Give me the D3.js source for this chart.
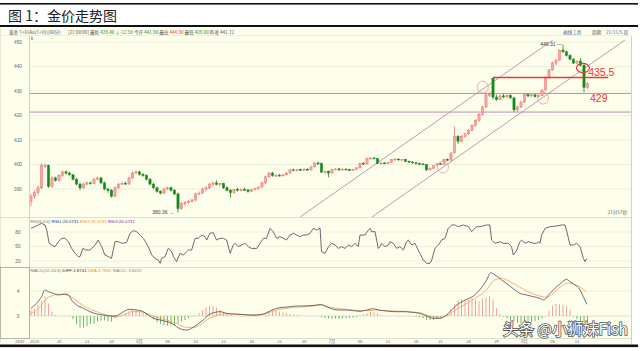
<!DOCTYPE html>
<html>
<head>
<meta charset="utf-8">
<script src="https://cdn.jsdelivr.net/npm/d3@7"></script>
<style>
  body { margin: 0; background: #fff; }
  svg { display: block; }
</style>
</head>
<body>
<svg id="chart" width="640" height="351"></svg>
<script>
// ── Data ────────────────────────────────────────────────────────────────────
const candleOpen = [385,387,388.5,390.5,399.5,399.6,391,394.5,393.5,395.5,397,396.5,395.8,394,392,390.5,392,392.5,392.2,394,
  394.5,392.5,390,389.5,387,390.5,392,392.3,392,394.5,396.5,397,396,395.5,394,392,390.5,389,388.3,390,
  390.5,389.5,388,382,384,384.5,385,385.5,388,388.3,390,390.5,392,392.5,391.8,392.3,390.5,389.5,388.5,389.8,
  389.5,389.8,389.6,389,389.8,390.2,390.8,392.5,395,396.5,395.5,395.6,395.4,395.8,396.5,397.8,397.6,397.9,397.7,398,
  397.8,399,400.6,400.4,396.9,397.2,396.5,398,398.2,397.8,398.1,397.9,397.6,398,398.6,400.5,400.3,402.5,402.6,402.4,
  400.5,400.6,400.4,400.8,402,402.2,401.9,402.1,401.3,401,400.7,400.4,400.2,400,397.8,398.5,399.6,400.3,400.1,402,
  401.8,404.7,411.5,409.5,411.5,412.5,414,416,418,420.5,423.5,428.4,435.2,427.5,426.5,428,427.6,428.2,427.2,422.3,
  423.5,425.5,428.5,428,428.4,427.7,428.1,430.4,435.5,438.6,441.4,442.6,446.7,446,444.5,443,441.4,442.2,440.5,431.5];
const candleHigh = [388,389.5,391.5,400.5,400.5,400,395,395,396,397.5,397.5,397,396,394.5,392.5,392.5,393,393,394.5,395,
  395,393,390.5,390,391,392.5,393,393,395,397,397.5,397.5,396.5,396,394.5,392.5,391,389.5,390.5,391,
  391,390,388.5,384.5,385,385.5,386,388.5,389,390.5,391,392.5,393,393.5,392.5,392.5,391,390,390,390.5,
  390.2,390.5,390,390,390.5,391,393,395.5,397,397,396,396.2,396,397,398.2,398.3,398.2,398.3,398.5,398.5,
  399.5,401,401.2,400.8,397.5,397.6,398.3,398.5,398.6,398.5,398.4,398.3,398.2,399,400.8,401,402.8,403,403,402.6,
  401,401,401,402.3,402.5,402.5,402.3,402.3,401.6,401.4,401,400.8,400.6,400.2,398.8,399.8,400.5,400.8,402.3,402.5,
  405,415.5,412,412,413,414.5,416.5,418.5,421,424,428.8,429.5,435.5,428.5,428.5,428.8,428.5,428.6,427.5,424,
  426,428.8,429,428.8,428.8,428.5,430.8,436,439,442,443,447,448.9,446.5,445,443.3,442.5,443.5,441,433.5];
const candleLow = [383,386,387.5,390,398.5,390.5,390.5,393,393,395,396,395.5,393.5,391.5,389.5,390,391.5,391.8,392,393.5,
  392,389.5,388.5,386.5,386.8,390,391.5,391.8,391.8,394,396,395.5,395,393.5,391.5,390,388.5,387.8,388,389.5,
  389,387.5,380.4,381.5,383,384,384.5,385,387.5,388,389,390,391,391.5,391,390,389,386.5,388,389,
  389,389.2,388.5,388.7,389.5,389.8,390.5,392,394.5,395,395,395.2,395,395.5,396.3,397.3,397.2,397.5,397.4,397.6,
  397.5,398.8,399.8,396.5,396.3,394.8,396.3,397.6,397.5,397.5,397.6,397.3,397.4,397.8,398.4,399.8,400,402,402.2,400.2,
  400,400.2,400,400.6,401.5,401.6,401.5,401,400.6,400.3,400,399.8,399.8,397.4,397.5,398.2,399.3,399.8,399.9,401.5,
  401.6,404.5,408.5,409,411,412,413.5,415.5,417.5,420,423,427.5,426.5,426,426.3,427.2,427,426.8,421.5,421.6,
  423,425.2,427.5,427.6,427.3,427.4,428,430.2,435,438.3,440.5,442.3,445.5,444,442.5,441,441,440,429.5,430.8];
const candleClose = [387,388.5,390.5,399.5,399.6,391,394.5,393.5,395.5,397,396.5,395.8,394,392,390.5,392,392.5,392.2,394,394.5,
  392.5,390,389.5,387,390.5,392,392.3,392,394.5,396.5,397,396,395.5,394,392,390.5,389,388.3,390,390.5,
  389.5,388,382,384,384.5,385,385.5,388,388.3,390,390.5,392,392.5,391.8,392.3,390.5,389.5,388.5,389.8,389.5,
  389.8,389.6,389,389.8,390.2,390.8,392.5,395,396.5,395.5,395.6,395.4,395.8,396.5,397.8,397.6,397.9,397.7,398,397.8,
  399,400.6,400.4,396.9,397.2,396.5,398,398.2,397.8,398.1,397.9,397.6,398,398.6,400.5,400.3,402.5,402.6,402.4,400.5,
  400.6,400.4,400.8,402,402.2,401.9,402.1,401.3,401,400.7,400.4,400.2,400,397.8,398.5,399.6,400.3,400.1,402,401.8,
  404.7,411.5,409.5,411.5,412.5,414,416,418,420.5,423.5,428.4,428.5,427.5,426.5,428,427.6,428.2,427.2,422.3,423.5,
  425.5,428.5,428,428.4,427.7,428.1,430.4,435.5,438.6,441.4,442.6,446.7,446,444.5,443,441.4,442.2,440.5,431.5,433];

const priceTicks = [390, 400, 410, 420, 430, 440, 450];
const supportLevels = [429, 421.4];
const resistance = { level: 435.5, from: 132, to: 164.9 };
const channelUpper = [[76.9, 378.6], [149.1, 450.8]];
const channelLower = [[97.4, 378.6], [169.7, 450.8]];
const ringMarks = [[117.7, 399], [129.1, 431.6], [146.3, 427.1]];
const breakMark = [157.7, 439.4];
const lowMark = { idx: 42, price: 380.4, text: '380.36' };
const highMark = { idx: 152, price: 448.9, text: '449.31' };

const rsiPos = [0,1.1,2.1,3,4,4.5,5.2,5.9,6.9,7.8,8.8,9.7,10.7,11.6,12.6,13.5,14,14.8,15.7,16.9,18.3,19.2,20.2,21.1,22.1,23,23.5,24,25,25.9,
  27.3,28.3,29.2,30.2,31.1,32.1,33,33.5,34.5,35.4,36.4,36.9,37.3,38.3,39.2,40.2,40.7,41.6,42.6,43.5,44.5,45,45.9,46.9,47.8,48.8,49.7,50.2,51.1,52.1,
  53,54,55,55.9,56.9,57.8,58.3,59.2,60.2,61.1,62.1,63,64.5,66.4,67.3,68.3,69.2,70.2,71.1,72.1,73,74,75,75.9,76.9,77.8,78.8,79.7,80.7,81.6,
  82.6,83,84,85,85.9,86.9,87.8,88.8,89.7,90.7,91.6,92.6,93.5,94,95.4,96.4,96.9,97.3,98.3,99.2,99.7,100.2,101.1,102.1,102.6,103.5,104.5,105.4,106.4,107.3,
  107.8,108.8,109.7,111.1,112.1,113,114,114.5,115.4,116.4,117.3,118.3,119.2,120.2,121.1,122.1,123.5,125,125.9,127.3,128.3,130.2,131.1,131.6,132.6,134,134.9,136.4,137.3,137.8,
  138.8,139.7,140.2,141.1,142.1,143.5,144.5,145,145.4,145.9,146.9,148.3,150.2,151.6,152.6,153.1,154,155,155.9,156.9,157.8,158.3,158.8];
const rsiVal = [87.6,91,94.5,98,94.5,84,56.6,53,49.7,60,67,67,60,46,35.9,29,29,46,42.8,42.8,53,63.4,49.7,32.4,29,25.5,42.8,60,60,56.6,
  58,77.2,82.8,80.7,73.8,66.9,56.6,49.7,32.4,25.5,22,15.2,25.5,29,46,39.3,29,18.6,35.9,32.4,39.3,42.8,42.8,66.9,66.9,73.8,70.3,63.4,77.2,78.6,
  63.4,66.9,66.9,63.4,35.9,53,56.6,49.7,53,56.6,49.7,46,46,66.9,66.9,87.6,80.7,66.9,70.3,66.9,63.4,73.8,77.2,73.8,70.3,73.8,73.8,77.2,87.6,84.1,
  87.6,39.3,35.9,49.7,56.6,53,46,49.7,46,53,49.7,56.6,49.7,73.8,73.8,84.1,87.6,80.7,80.7,46,49.7,56.6,49.7,53,60,56.6,46,49.7,42.8,60,
  63.4,53,56.6,35.9,22,15.2,15.2,22,46,53,63.4,66.9,87.6,94.5,94.5,91,94.5,91,80.7,91,91,94.5,94.5,63.4,56.6,60,56.6,56.6,49.7,32.4,
  42.8,60,63.4,56.6,60,56.6,56.6,60,56.6,73.8,87.6,91,92.4,94.5,94.5,80.7,53,53,56.6,49.7,25.5,18.6,25.5];
const rsiTicks = [80, 50, 20];

const difPos = [0,1.6,3,4,5,6.4,7.8,9.7,10.7,11.6,13,15,16.9,18.8,20.7,22.6,24,25.4,26.9,28.3,30.2,32.1,33.5,35,36.9,38.8,40.2,41.6,43,44.5,
  45.9,47.3,49.2,50.7,52.1,54,55.9,57.8,59.7,63.5,66.4,68.3,70.2,72.1,74,75.9,77.8,79.7,81.6,82.6,84.5,86.4,88.3,90.2,92.1,94,95.9,97.8,99.2,101.6,
  104,106.4,108.8,111.1,113,115,116.9,118.3,119.7,121.1,122.6,124.5,126.4,128.3,130.2,131.3,132.6,134.5,136.4,138.3,139.7,141.6,143.5,145.4,146.4,148.3,150.2,151.6,153,154,
  155.4,156.9,157.8,158.8];
const difVal = [1.23,2.03,3.09,4.16,3.89,3.63,3.36,3.52,3.36,2.56,1.76,1.23,0.69,0.32,0.16,0,0,0.32,0.85,1.07,0.96,0.69,0.16,-0.37,-0.64,-0.91,-1.17,-1.71,-2.13,-2.24,
  -1.97,-1.44,-0.64,0.16,0.53,0.69,0.43,0.32,0.27,0.11,0.32,0.8,1.23,1.39,1.49,1.6,1.6,1.65,1.76,1.87,1.49,1.07,0.96,0.96,0.85,0.75,0.96,1.17,0.96,0.8,
  0.69,0.69,0.59,0.43,0,-0.37,-0.37,0,0.69,1.49,2.13,2.67,3.2,4.27,5.76,6.93,6.56,5.76,4.96,4.16,3.63,3.36,3.09,2.83,2.56,3.63,4.69,5.33,5.87,5.49,
  4.96,4.16,3.09,1.87];
const deaPos = [0,1.6,3,4.5,5.9,7.8,10.2,12.1,14,15.9,18.8,21.6,24.5,26.9,28.8,31.1,33.5,35.9,38.8,41.6,44.5,46.4,48.3,50.2,52.1,55,57.8,61.6,65.4,67.3,
  70.2,73,76.9,80.7,82.6,85.4,88.3,92.1,95.9,98.8,101.6,106.4,111.1,114,116.9,119.2,121.6,124.5,127.3,130.2,132.1,134.5,136.9,139.7,142.6,145.4,147.3,149.2,151.1,153.5,
  155.9,157.8,158.8];
const deaVal = [0.43,0.96,1.76,2.83,3.2,3.52,3.36,2.83,2.03,1.39,0.69,0.16,-0.11,0.32,0.69,0.69,0.32,-0.21,-0.64,-1.17,-1.81,-1.81,-1.44,-0.64,-0.11,0.32,0.32,0.21,0.21,0.43,
  0.96,1.23,1.44,1.6,1.71,1.39,1.17,0.96,0.85,0.96,0.85,0.75,0.53,0,-0.21,0.16,1.07,2.03,2.99,4.16,5.65,6.03,5.49,4.59,3.73,3.2,2.99,3.63,4.59,5.23,
  4.96,4.27,3.79];
const macdHist = [0.96,1.2,1.76,2.45,3.1,2.0,0.7,0.15,0.05,0.02,-0.02,-0.1,-0.5,-1.3,-1.85,-1.85,-1.6,-1.3,-1.2,-0.9,
  -0.75,-0.7,-0.9,-0.9,-0.37,-0.1,0.05,0.37,0.75,0.96,0.96,0.85,0.64,0.32,-0.1,-0.53,-1.0,-1.28,-1.44,-1.55,
  -1.5,-1.44,-1.17,-0.9,-0.64,-0.37,-0.1,0.1,0.48,0.96,1.39,1.6,1.6,1.33,0.96,0.64,0.37,0.16,0,0.02,
  -0.05,-0.05,0.02,0.03,0.05,0,0.1,0.37,0.7,0.85,0.85,0.7,0.53,0.43,0.32,0.21,0.16,0.1,0.05,0.02,
  0.02,0.01,-0.04,-0.2,-0.3,-0.37,-0.43,-0.43,-0.43,-0.37,-0.37,-0.32,-0.27,-0.16,0.1,0.27,0.43,0.64,0.58,0.43,
  0.16,0.02,0.01,0.02,-0.03,-0.05,-0.05,0.02,0.02,-0.05,-0.1,-0.2,-0.37,-0.59,-0.64,-0.64,-0.48,-0.27,0,0.32,
  1.07,1.87,2.56,2.67,2.45,2.67,2.83,2.56,2.35,2.83,2.99,3.2,2.67,1.23,0.32,-0.1,-0.37,-0.59,-0.85,-1.07,
  -1.17,-1.17,-1.07,-0.96,-0.85,-0.64,-0.43,-0.1,0.8,1.65,1.92,1.87,1.81,1.55,0.96,-0.1,-0.53,-0.85,-0.96,-1.07];
const macdTicks = [4, 0];

const dateTickPos = [8,16,23,31,39,47,55,63,71,78,86,94,102,110,117,125,133,141,149,156];
const dateTickText = ['20','13','20','6月','06','10','13','16','21','30','7月','06','11','16','21','24','29','8月','06','11'];

// ── Layout ────────────────────────────────────────────────────────────────
const svg = d3.select('#chart');
const FONT = '"Liberation Sans", "Noto Sans CJK SC", sans-serif';
const CJK  = '"Noto Sans CJK SC", sans-serif';

const plotL = 30, plotR = 631;
const pane = {
  price: { top: 36, bottom: 217 },
  rsi:   { top: 217, bottom: 267 },
  macd:  { top: 267, bottom: 338 },
};

const x     = d3.scaleLinear().domain([0, candleClose.length - 1]).range([31, 587.5]);
const yP    = d3.scaleLinear().domain([380, 450]).range([213.5, 42]);
const yR    = d3.scaleLinear().domain([20, 80]).range([261, 232]);
const yM    = d3.scaleLinear().domain([0, 4]).range([316, 291]);

const UP = '#ee6f6f', DOWN = '#14891c', PURPLE = '#b48fb0', RED = '#e6393a';

// ── Page frame ────────────────────────────────────────────────────────────
svg.append('rect').attr('x', 0).attr('y', 3).attr('width', 638).attr('height', 1.6).attr('fill', '#111');
svg.append('text').attr('x', 8).attr('y', 21)
  .attr('font-family', CJK).attr('font-size', 14).attr('fill', '#222')
  .text('图 1：金价走势图');
svg.append('rect').attr('x', 0).attr('y', 25).attr('width', 638).attr('height', 2).attr('fill', '#111');

// chart screenshot background
svg.append('rect').attr('x', 0).attr('y', 27.5).attr('width', plotR + 1).attr('height', 316)
  .attr('fill', '#fefeec');
svg.append('line').attr('x1', 0).attr('x2', plotR).attr('y1', 35.5).attr('y2', 35.5)
  .attr('stroke', '#e4e2c8').attr('stroke-width', 0.6);
svg.append('line').attr('x1', 0.5).attr('x2', 0.5).attr('y1', 28).attr('y2', 343)
  .attr('stroke', '#d8d6c0').attr('stroke-width', 0.6);
svg.append('rect').attr('x', 0).attr('y', 344.5).attr('width', 638).attr('height', 2.6).attr('fill', '#111');

// info row
const info = svg.append('text').attr('x', 9).attr('y', 33.5)
  .attr('font-family', CJK).attr('font-size', 4.6).attr('fill', '#555');
info.append('tspan').text('黄金 T+D(Au(T+D))(60分)');
info.append('tspan').attr('x', 68).text('[21:00:00] 最新 ');
info.append('tspan').attr('fill', '#1a8a1a').text('429.40 ↓-12.59  ');
info.append('tspan').text('今开 ');
info.append('tspan').attr('fill', '#1a8a1a').text('441.90  ');
info.append('tspan').text('最高 ');
info.append('tspan').attr('fill', RED).text('444.90  ');
info.append('tspan').text('最低 ');
info.append('tspan').attr('fill', '#1a8a1a').text('429.00  ');
info.append('tspan').text('昨收 441.72');
const infoR = svg.append('text').attr('y', 33.5).attr('font-family', CJK).attr('font-size', 4.6).attr('fill', '#3a6a9a');
infoR.append('tspan').attr('x', 563).text('画线工具');
infoR.append('tspan').attr('x', 592).attr('fill', '#555').text('周期');
infoR.append('tspan').attr('x', 606).text('21/11/5 周');

// ── Panels: borders and grids ────────────────────────────────────────────
const gridColor = '#ebe8cf';
svg.append('line').attr('x1', plotL - 0.5).attr('x2', plotL - 0.5).attr('y1', 36).attr('y2', 338)
  .attr('stroke', '#b8b6a0').attr('stroke-width', 0.6);
svg.append('line').attr('x1', plotR + 0.5).attr('x2', plotR + 0.5).attr('y1', 36).attr('y2', 344)
  .attr('stroke', '#b8b6a0').attr('stroke-width', 0.6);
[pane.rsi.top, pane.macd.top].forEach(y => {
  svg.append('line').attr('x1', 0).attr('x2', plotR).attr('y1', y + 0.5).attr('y2', y + 0.5)
    .attr('stroke', '#c9c7b0').attr('stroke-width', 0.6);
});
svg.append('line').attr('x1', 0).attr('x2', plotR).attr('y1', pane.macd.bottom + 0.5).attr('y2', pane.macd.bottom + 0.5)
  .attr('stroke', '#c9c7b0').attr('stroke-width', 0.6);
svg.append('rect').attr('x', 0.5).attr('y', pane.macd.top + 0.5).attr('width', plotL - 1).attr('height', pane.macd.bottom - pane.macd.top)
  .attr('fill', 'none').attr('stroke', '#9a9888').attr('stroke-width', 0.6);

const axisText = (g, y, t) => g.append('text').attr('x', 18).attr('y', y + 1.6)
  .attr('text-anchor', 'middle').attr('font-family', FONT).attr('font-size', 4.8).attr('fill', '#666').text(t);

const gGrid = svg.append('g');
priceTicks.forEach(v => {
  gGrid.append('line').attr('x1', plotL).attr('x2', plotR).attr('y1', yP(v)).attr('y2', yP(v))
    .attr('stroke', gridColor).attr('stroke-width', 0.7);
  axisText(gGrid, yP(v), v);
});
rsiTicks.forEach(v => {
  gGrid.append('line').attr('x1', plotL).attr('x2', plotR).attr('y1', yR(v)).attr('y2', yR(v))
    .attr('stroke', gridColor).attr('stroke-width', 0.7);
  axisText(gGrid, yR(v), v);
});
macdTicks.forEach(v => {
  gGrid.append('line').attr('x1', plotL).attr('x2', plotR).attr('y1', yM(v)).attr('y2', yM(v))
    .attr('stroke', v === 0 ? '#d9d6bb' : gridColor).attr('stroke-width', 0.7);
  axisText(gGrid, yM(v), v);
});

// clip paths
const defs = svg.append('defs');
Object.entries(pane).forEach(([k, p]) => {
  defs.append('clipPath').attr('id', 'clip-' + k).append('rect')
    .attr('x', plotL).attr('y', p.top + 1).attr('width', plotR - plotL).attr('height', p.bottom - p.top - 1);
});

// ── Price panel ──────────────────────────────────────────────────────────
const gPrice = svg.append('g').attr('clip-path', 'url(#clip-price)');

supportLevels.forEach(v => {
  gPrice.append('line').attr('x1', plotL).attr('x2', plotR).attr('y1', yP(v)).attr('y2', yP(v))
    .attr('stroke', PURPLE).attr('stroke-width', 1);
});
[channelUpper, channelLower].forEach(seg => {
  gPrice.append('line')
    .attr('x1', x(seg[0][0])).attr('y1', yP(seg[0][1]))
    .attr('x2', x(seg[1][0])).attr('y2', yP(seg[1][1]))
    .attr('stroke', PURPLE).attr('stroke-width', 0.9);
});

const candles = d3.range(candleClose.length).map(i => ({
  i, o: candleOpen[i], h: candleHigh[i], l: candleLow[i], c: candleClose[i]
}));
const bodyW = 2.2;
const cg = gPrice.selectAll('g.candle').data(candles).join('g').attr('class', 'candle');
cg.append('line')
  .attr('x1', d => x(d.i)).attr('x2', d => x(d.i))
  .attr('y1', d => yP(d.h)).attr('y2', d => yP(d.l))
  .attr('stroke', d => d.c >= d.o ? UP : DOWN).attr('stroke-width', 0.8);
cg.append('rect')
  .attr('x', d => x(d.i) - bodyW / 2)
  .attr('y', d => yP(Math.max(d.o, d.c)))
  .attr('width', bodyW)
  .attr('height', d => Math.max(0.8, Math.abs(yP(d.o) - yP(d.c))))
  .attr('fill', d => d.c >= d.o ? '#f5a8a8' : DOWN)
  .attr('stroke', d => d.c >= d.o ? UP : DOWN).attr('stroke-width', 0.5);

// resistance line and annotations
gPrice.append('line')
  .attr('x1', x(resistance.from)).attr('x2', x(resistance.to))
  .attr('y1', yP(resistance.level)).attr('y2', yP(resistance.level))
  .attr('stroke', RED).attr('stroke-width', 1.4);

ringMarks.forEach(([i, p]) => {
  gPrice.append('ellipse').attr('cx', x(i)).attr('cy', yP(p)).attr('rx', 5.5).attr('ry', 6)
    .attr('fill', 'none').attr('stroke', '#ec9a9a').attr('stroke-width', 0.8);
});
gPrice.append('ellipse').attr('cx', x(breakMark[0])).attr('cy', yP(breakMark[1])).attr('rx', 6.5).attr('ry', 4.6)
  .attr('fill', 'none').attr('stroke', RED).attr('stroke-width', 1.2);

svg.append('text').attr('x', x(resistance.to) - 20).attr('y', yP(resistance.level) - 1.5)
  .attr('font-family', FONT).attr('font-size', 10.5).attr('fill', RED).text(resistance.level);
svg.append('text').attr('x', 590).attr('y', yP(supportLevels[0]) + 8.5)
  .attr('font-family', FONT).attr('font-size', 10.5).attr('fill', RED).text(supportLevels[0]);

// extreme labels
svg.append('text').attr('x', x(lowMark.idx) - 4).attr('y', yP(lowMark.price) + 1.5)
  .attr('text-anchor', 'end').attr('font-family', FONT).attr('font-size', 5).attr('fill', '#444').text(lowMark.text + ' →');
svg.append('text').attr('x', x(highMark.idx) - 1).attr('y', yP(highMark.price) + 1)
  .attr('text-anchor', 'end').attr('font-family', FONT).attr('font-size', 5).attr('fill', '#444').text(highMark.text + ' —');

svg.append('text').attr('x', 627).attr('y', 214).attr('text-anchor', 'end')
  .attr('font-family', CJK).attr('font-size', 4.6).attr('fill', '#666').text('21分57秒');
svg.append('text').attr('x', 31).attr('y', 40).attr('font-family', FONT).attr('font-size', 4.5).attr('fill', '#666').text('k');

// ── RSI panel ────────────────────────────────────────────────────────────
const gRsi = svg.append('g').attr('clip-path', 'url(#clip-rsi)');
gRsi.append('path')
  .datum(d3.zip(rsiPos, rsiVal))
  .attr('d', d3.line().x(d => x(d[0])).y(d => yR(d[1])))
  .attr('fill', 'none').attr('stroke', '#6b4f73').attr('stroke-width', 0.9);

const rsiLeg = svg.append('text').attr('x', 30.5).attr('y', 222.5).attr('font-family', FONT).attr('font-size', 4.4).attr('fill', '#777');
rsiLeg.append('tspan').text('RSI(6,6,6)  ');
rsiLeg.append('tspan').attr('fill', '#2a3a8a').text('RSI1:26.0731  ');
rsiLeg.append('tspan').attr('fill', '#e8902a').text('RSI2:26.0731  ');
rsiLeg.append('tspan').attr('fill', '#7a3a9a').text('RSI3:26.0731');

// ── MACD panel ───────────────────────────────────────────────────────────
const gMacd = svg.append('g').attr('clip-path', 'url(#clip-macd)');
gMacd.selectAll('line.hist').data(macdHist.map((v, i) => ({ i, v })).filter(d => Math.abs(d.v) > 0.005))
  .join('line').attr('class', 'hist')
  .attr('x1', d => x(d.i)).attr('x2', d => x(d.i))
  .attr('y1', yM(0)).attr('y2', d => yM(d.v))
  .attr('stroke', d => d.v > 0 ? '#ef8c8c' : '#48a848').attr('stroke-width', 0.8);

gMacd.append('path')
  .datum(d3.zip(deaPos, deaVal))
  .attr('d', d3.line().curve(d3.curveMonotoneX).x(d => x(d[0])).y(d => yM(d[1])))
  .attr('fill', 'none').attr('stroke', '#f2a05a').attr('stroke-width', 0.8);
gMacd.append('path')
  .datum(d3.zip(difPos, difVal))
  .attr('d', d3.line().curve(d3.curveMonotoneX).x(d => x(d[0])).y(d => yM(d[1])))
  .attr('fill', 'none').attr('stroke', '#4a4a5a').attr('stroke-width', 0.8);

const macdLeg = svg.append('text').attr('x', 30.5).attr('y', 272).attr('font-family', FONT).attr('font-size', 4.4).attr('fill', '#777');
macdLeg.append('tspan').text('MACD(12,26,9)  ');
macdLeg.append('tspan').attr('fill', '#333').text('DIFF:1.8741  ');
macdLeg.append('tspan').attr('fill', '#e8902a').text('DEA:3.7852  ');
macdLeg.append('tspan').attr('fill', '#888').text('MACD:-3.8222');

// ── Date axis ────────────────────────────────────────────────────────────
const gDate = svg.append('g').attr('font-family', CJK).attr('font-size', 4.2).attr('fill', '#666');
gDate.append('text').attr('x', 15).attr('y', 343).text('2403');
gDate.append('text').attr('x', 30).attr('y', 343).text('2020');
dateTickPos.forEach((p, k) => {
  gDate.append('text').attr('x', x(p)).attr('y', 343).attr('text-anchor', 'middle').text(dateTickText[k]);
});

// ── Watermark ────────────────────────────────────────────────────────────
svg.append('text').attr('x', 628).attr('y', 334.5).attr('text-anchor', 'end')
  .attr('font-family', CJK).attr('font-size', 15.5)
  .attr('fill', '#fff').attr('stroke', '#555').attr('stroke-width', 1.6).attr('paint-order', 'stroke')
  .text('头条 @小狮妹Fish');
</script>
</body>
</html>
